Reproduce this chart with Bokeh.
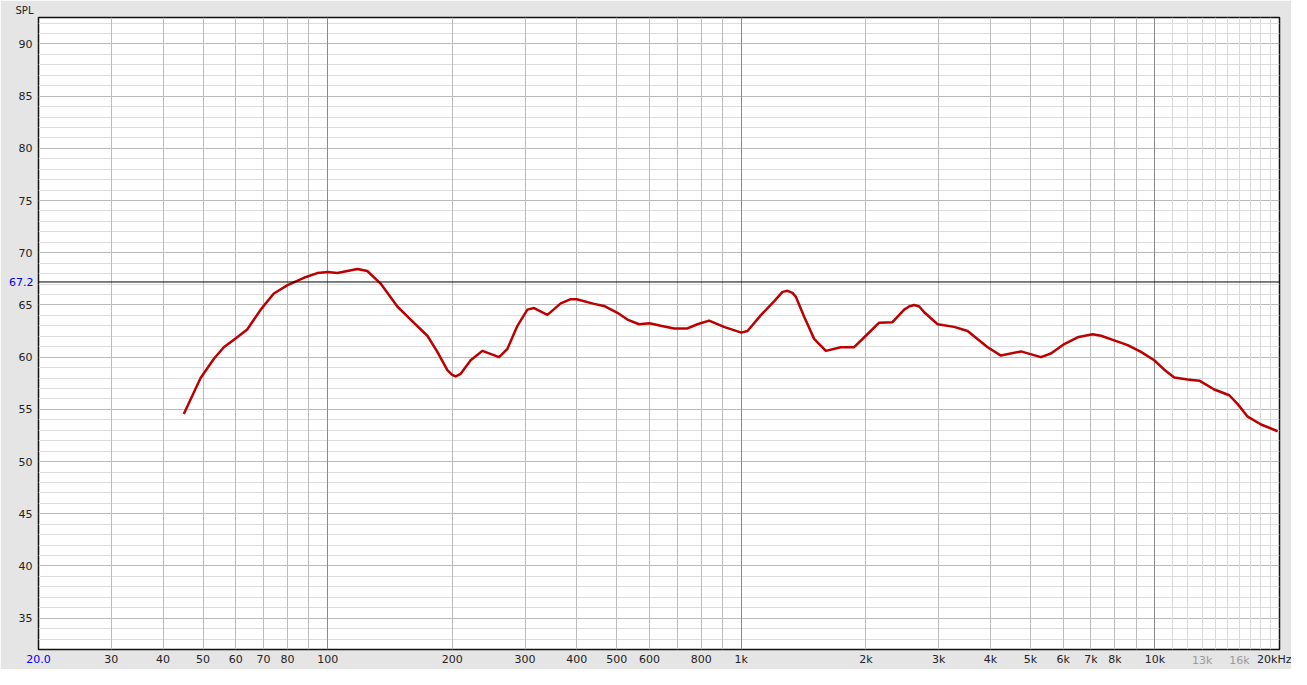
from bokeh.plotting import figure
from bokeh.models import Range1d, FixedTicker, Grid, Span, LogAxis, LinearAxis
from bokeh.embed import file_html
from bokeh.resources import INLINE

# ---------------- data ----------------
freq_hz = [44.9, 49.3, 53.1, 56.1, 60, 63.9, 68.9, 74.1, 80, 87.6, 94.4, 100, 105.5,
           111.6, 118, 124.7, 134.3, 147.4, 158.7, 174.2, 184.2, 194.7, 200, 204, 209.7,
           221.7, 236.6, 259.7, 272, 287.6, 304, 315.4, 339.8, 366, 387, 400, 440.6,
           465.7, 501.8, 530.6, 566, 600, 638.6, 688, 741, 783.5, 835.9, 908, 1000,
           1035, 1114, 1200, 1258, 1294, 1329, 1354, 1418, 1500, 1601, 1740, 1874, 2000,
           2154, 2320, 2476, 2544, 2618, 2692, 2768, 2982, 3270, 3524, 3940, 4242, 4742,
           5300, 5604, 6036, 6500, 7068, 7404, 7973, 8590, 9250, 9958, 10530, 11134,
           11996, 12800, 13912, 15124, 15848, 16754, 18048, 19798]
spl_db = [54.55, 58.0, 59.85, 60.95, 61.8, 62.65, 64.55, 66.1, 66.9, 67.6, 68.05, 68.15,
          68.05, 68.25, 68.45, 68.25, 67.05, 64.85, 63.6, 62.05, 60.5, 58.75, 58.3, 58.15,
          58.4, 59.7, 60.6, 60.0, 60.8, 63.0, 64.55, 64.7, 64.05, 65.15, 65.55, 65.55,
          65.1, 64.9, 64.25, 63.6, 63.15, 63.25, 63.0, 62.75, 62.75, 63.15, 63.5, 62.9,
          62.35, 62.5, 64.0, 65.35, 66.25, 66.35, 66.15, 65.8, 63.9, 61.75, 60.6, 60.95,
          60.95, 62.05, 63.3, 63.35, 64.55, 64.85, 65.0, 64.85, 64.3, 63.15, 62.9, 62.5,
          60.95, 60.15, 60.55, 60.0, 60.35, 61.25, 61.9, 62.2, 62.05, 61.6, 61.15, 60.5,
          59.7, 58.8, 58.05, 57.85, 57.75, 56.9, 56.35, 55.5, 54.3, 53.55, 52.9]

y_ticks = [35, 40, 45, 50, 55, 60, 65, 70, 75, 80, 85, 90]
y_minor = [33, 34, 36, 37, 38, 39, 41, 42, 43, 44, 46, 47, 48, 49, 51, 52, 53, 54,
           56, 57, 58, 59, 61, 62, 63, 64, 66, 67, 68, 69, 71, 72, 73, 74, 76, 77, 78,
           79, 81, 82, 83, 84, 86, 87, 88, 89, 91, 92]

x_label_freqs = [30, 40, 50, 60, 70, 80, 100, 200, 300, 400, 500, 600, 800, 1000,
                 2000, 3000, 4000, 5000, 6000, 7000, 8000, 10000, 20000]
x_label_texts = ["30", "40", "50", "60", "70", "80", "100", "200", "300", "400", "500",
                 "600", "800", "1k", "2k", "3k", "4k", "5k", "6k", "7k", "8k", "10k",
                 "20kHz"]
x_grey_freqs = [13000, 16000]
x_grey_texts = ["13k", "16k"]

grid_normal = [30, 40, 50, 60, 70, 80, 90, 200, 300, 400, 500, 600, 700, 800, 900,
               2000, 3000, 4000, 5000, 6000, 7000, 8000, 9000]
grid_decade = [100, 1000, 10000]
grid_fine = [11000, 12000, 13000, 14000, 15000, 16000, 17000, 18000, 19000]

x_start, x_end = 20, 20000
y_start, y_end = 32.0, 92.53
cursor_level = 67.2
cursor_freq = 20
cursor_freq_text = "20.0"
y_title = "SPL"

FONT = "DejaVu Sans"
LABEL_H = 15  # measured label height, used to overlay stacked axes on one row

# ---------------- figure ----------------
p = figure(width=1291, height=669, x_axis_type="log",
           x_range=Range1d(x_start, x_end), y_range=Range1d(y_start, y_end),
           output_backend="svg", toolbar_location=None,
           min_border_left=38, min_border_right=12, min_border_top=17,
           min_border_bottom=16)
p.background_fill_color = "white"
p.border_fill_color = "#e5e5e5"
p.outline_line_color = "#111111"
p.outline_line_width = 1.5

p.title.text = y_title
p.title.align = "left"
p.title.offset = -23
p.title.standoff = 4
p.title.text_font = FONT
p.title.text_font_size = "10px"
p.title.text_font_style = "normal"
p.title.text_color = "#222222"


def style_axis(ax, color, standoff):
    ax.major_label_text_font = FONT
    ax.major_label_text_font_size = "11px"
    ax.major_label_text_color = color
    ax.major_tick_out = 0
    ax.major_tick_in = 0
    ax.minor_tick_out = 0
    ax.minor_tick_in = 0
    ax.axis_line_color = None
    ax.major_label_standoff = standoff


# y axis
ya = p.yaxis[0]
ya.ticker = FixedTicker(ticks=y_ticks, minor_ticks=y_minor)
style_axis(ya, "#222222", 6)

p.ygrid.grid_line_color = "#b9b9b9"
p.ygrid.grid_line_width = 1
p.ygrid.minor_grid_line_color = "#dddddd"
p.ygrid.minor_grid_line_width = 1

# cursor level label (blue) as a second left axis overlaid on the first
ya2 = LinearAxis(ticker=FixedTicker(ticks=[cursor_level]),
                 major_label_overrides={cursor_level: f"{cursor_level}"})
style_axis(ya2, "#0000ee", -18)
p.add_layout(ya2, "left")

# x axis (black labels)
xa = p.xaxis[0]
xa.ticker = FixedTicker(ticks=x_label_freqs)
xa.major_label_overrides = {f: t for f, t in zip(x_label_freqs, x_label_texts)}
style_axis(xa, "#222222", 3)
p.xgrid.grid_line_color = None

# grey labels above 10k, overlaid on the same row
xa2 = LogAxis(ticker=FixedTicker(ticks=x_grey_freqs),
              major_label_overrides={f: t for f, t in zip(x_grey_freqs, x_grey_texts)})
style_axis(xa2, "#9a9a9a", -LABEL_H)
p.add_layout(xa2, "below")

# blue cursor frequency label
xa3 = LogAxis(ticker=FixedTicker(ticks=[cursor_freq]),
              major_label_overrides={cursor_freq: cursor_freq_text})
style_axis(xa3, "#0000ee", -LABEL_H)
p.add_layout(xa3, "below")

# vertical grids
for ticks, col in ((grid_fine, "#dadada"), (grid_normal, "#bcbcbc"), (grid_decade, "#8a8a8a")):
    g = Grid(dimension=0, ticker=FixedTicker(ticks=ticks), grid_line_color=col,
             grid_line_width=1)
    p.add_layout(g)

# cursor line
p.add_layout(Span(location=cursor_level, dimension="width", line_color="black",
                  line_width=1))

# response curve
p.line(freq_hz, spl_db, line_color="#bb0000", line_width=2.5, line_join="round")

open("out.html", "w").write(file_html(p, INLINE))
